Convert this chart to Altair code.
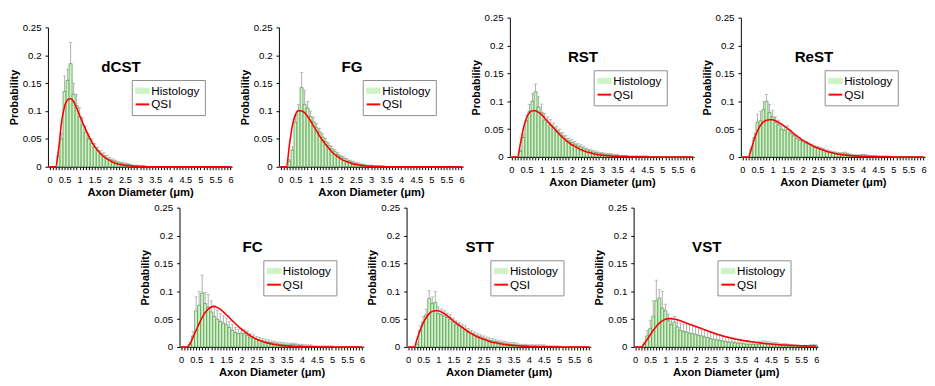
import altair as alt
import pandas as pd

# ---- data (bin centres 0.0 .. 6.0 um, step 0.1) ----
bins = [round(i * 0.1, 1) for i in range(61)]
y_ticks = [0, 0.05, 0.1, 0.15, 0.2, 0.25]
series_names = ["Histology", "QSI"]

dCST_hist = [0, 0, 0, 0.02, 0.05, 0.135, 0.155, 0.185, 0.13, 0.11,
             0.09, 0.075, 0.062, 0.05, 0.042, 0.035, 0.029, 0.024, 0.02, 0.016,
             0.013, 0.011, 0.009, 0.007, 0.006, 0.005, 0.004, 0.003, 0.002, 0.002,
             0.001, 0.001, 0, 0, 0, 0, 0, 0, 0, 0,
             0, 0, 0, 0, 0, 0, 0, 0, 0, 0,
             0, 0, 0, 0, 0, 0, 0, 0, 0, 0,
             0]
dCST_err = [0, 0, 0, 0.005, 0.01, 0.028, 0.02, 0.038, 0.02, 0.02,
            0.016, 0.013, 0.011, 0.009, 0.008, 0.007, 0.006, 0.005, 0.005, 0.004,
            0.004, 0.003, 0.003, 0.002, 0.002, 0.002, 0.002, 0.001, 0.001, 0.001,
            0.001, 0.001, 0, 0, 0, 0, 0, 0, 0, 0,
            0, 0, 0, 0, 0, 0, 0, 0, 0, 0,
            0, 0, 0, 0, 0, 0, 0, 0, 0, 0,
            0]
dCST_qsi = [0, 0, 0, 0.03, 0.08, 0.108, 0.12, 0.122, 0.117, 0.105,
            0.092, 0.079, 0.067, 0.055, 0.045, 0.036, 0.029, 0.023, 0.018, 0.014,
            0.011, 0.008, 0.006, 0.0045, 0.0035, 0.0025, 0.002, 0.0013, 0.001, 0.0007,
            0.0005, 0.0003, 0.0002, 0, 0, 0, 0, 0, 0, 0,
            0, 0, 0, 0, 0, 0, 0, 0, 0, 0,
            0, 0, 0, 0, 0, 0, 0, 0, 0, 0,
            0]

FG_hist = [0, 0, 0, 0.01, 0.03, 0.08, 0.1, 0.142, 0.112, 0.105,
           0.09, 0.08, 0.07, 0.062, 0.053, 0.045, 0.038, 0.032, 0.027, 0.022,
           0.018, 0.015, 0.012, 0.01, 0.008, 0.006, 0.005, 0.004, 0.003, 0.002,
           0.002, 0.001, 0.001, 0.001, 0.001, 0, 0, 0, 0, 0,
           0, 0, 0, 0, 0, 0, 0, 0, 0, 0,
           0, 0, 0, 0, 0, 0, 0, 0, 0, 0,
           0]
FG_err = [0, 0, 0, 0.003, 0.006, 0.012, 0.012, 0.027, 0.025, 0.012,
          0.01, 0.009, 0.008, 0.007, 0.006, 0.006, 0.005, 0.005, 0.004, 0.004,
          0.003, 0.003, 0.003, 0.002, 0.002, 0.002, 0.002, 0.001, 0.001, 0.001,
          0.001, 0.001, 0.001, 0.001, 0.001, 0, 0, 0, 0, 0,
          0, 0, 0, 0, 0, 0, 0, 0, 0, 0,
          0, 0, 0, 0, 0, 0, 0, 0, 0, 0,
          0]
FG_qsi = [0, 0, 0, 0.04, 0.075, 0.094, 0.101, 0.1, 0.097, 0.09,
          0.082, 0.073, 0.064, 0.055, 0.047, 0.04, 0.033, 0.027, 0.022, 0.018,
          0.014, 0.011, 0.009, 0.007, 0.005, 0.004, 0.003, 0.002, 0.0015, 0.001,
          0.0008, 0.0005, 0.0003, 0.0002, 0, 0, 0, 0, 0, 0,
          0, 0, 0, 0, 0, 0, 0, 0, 0, 0,
          0, 0, 0, 0, 0, 0, 0, 0, 0, 0,
          0]

RST_hist = [0, 0, 0, 0.01, 0.035, 0.065, 0.082, 0.1, 0.117, 0.09,
            0.08, 0.066, 0.062, 0.058, 0.053, 0.048, 0.043, 0.038, 0.033, 0.029,
            0.026, 0.023, 0.02, 0.018, 0.015, 0.013, 0.011, 0.009, 0.008, 0.007,
            0.006, 0.005, 0.004, 0.004, 0.003, 0.003, 0.002, 0.002, 0.002, 0.001,
            0.001, 0.001, 0.001, 0.001, 0.001, 0.001, 0, 0, 0, 0,
            0, 0, 0, 0, 0, 0, 0, 0, 0, 0,
            0]
RST_err = [0, 0, 0, 0.003, 0.006, 0.01, 0.012, 0.014, 0.014, 0.018,
           0.015, 0.012, 0.01, 0.009, 0.008, 0.007, 0.007, 0.006, 0.006, 0.005,
           0.005, 0.005, 0.004, 0.004, 0.004, 0.003, 0.003, 0.003, 0.003, 0.002,
           0.002, 0.002, 0.002, 0.002, 0.002, 0.002, 0.001, 0.001, 0.001, 0.001,
           0.001, 0.001, 0.001, 0.001, 0.001, 0.001, 0, 0, 0, 0,
           0, 0, 0, 0, 0, 0, 0, 0, 0, 0,
           0]
RST_qsi = [0, 0, 0, 0.025, 0.052, 0.07, 0.08, 0.083, 0.083, 0.08,
           0.076, 0.07, 0.064, 0.058, 0.052, 0.046, 0.04, 0.035, 0.03, 0.026,
           0.022, 0.019, 0.016, 0.013, 0.011, 0.009, 0.0075, 0.006, 0.005, 0.004,
           0.0033, 0.0027, 0.0022, 0.0018, 0.0015, 0.0012, 0.001, 0.0008, 0.0007, 0.0006,
           0.0005, 0.0004, 0.0003, 0.0002, 0.0002, 0.0001, 0, 0, 0, 0,
           0, 0, 0, 0, 0, 0, 0, 0, 0, 0,
           0]

ReST_hist = [0, 0, 0, 0.015, 0.035, 0.062, 0.065, 0.085, 0.1, 0.08,
             0.072, 0.062, 0.058, 0.05, 0.048, 0.05, 0.042, 0.038, 0.033, 0.03,
             0.027, 0.024, 0.022, 0.02, 0.018, 0.016, 0.014, 0.012, 0.011, 0.009,
             0.008, 0.007, 0.006, 0.006, 0.007, 0.005, 0.004, 0.003, 0.003, 0.003,
             0.004, 0.003, 0.002, 0.002, 0.002, 0.001, 0.001, 0.001, 0.001, 0,
             0, 0, 0, 0, 0, 0, 0, 0, 0, 0,
             0]
ReST_err = [0, 0, 0, 0.004, 0.008, 0.015, 0.017, 0.014, 0.012, 0.014,
            0.012, 0.01, 0.008, 0.007, 0.007, 0.006, 0.006, 0.005, 0.005, 0.005,
            0.004, 0.004, 0.003, 0.003, 0.003, 0.003, 0.003, 0.003, 0.002, 0.002,
            0.002, 0.002, 0.002, 0.002, 0.002, 0.002, 0.001, 0.001, 0.001, 0.001,
            0.001, 0.001, 0.001, 0.001, 0.001, 0.001, 0.001, 0.001, 0.001, 0,
            0, 0, 0, 0, 0, 0, 0, 0, 0, 0,
            0]
ReST_qsi = [0, 0, 0, 0.015, 0.033, 0.047, 0.057, 0.063, 0.066, 0.067,
            0.067, 0.065, 0.062, 0.059, 0.055, 0.051, 0.047, 0.042, 0.038, 0.034,
            0.03, 0.027, 0.024, 0.021, 0.018, 0.016, 0.014, 0.012, 0.01, 0.0085,
            0.0072, 0.006, 0.005, 0.0042, 0.0035, 0.0029, 0.0024, 0.002, 0.0016, 0.0013,
            0.0011, 0.0009, 0.0008, 0.0006, 0.0005, 0.0004, 0.0003, 0.0003, 0.0002, 0.0002,
            0.0001, 0, 0, 0, 0, 0, 0, 0, 0, 0,
            0]

FC_hist = [0, 0, 0, 0.005, 0.02, 0.065, 0.075, 0.097, 0.078, 0.072,
           0.063, 0.055, 0.05, 0.046, 0.043, 0.04, 0.035, 0.03, 0.026, 0.024,
           0.025, 0.024, 0.021, 0.018, 0.016, 0.014, 0.012, 0.011, 0.01, 0.009,
           0.008, 0.007, 0.006, 0.005, 0.005, 0.004, 0.004, 0.005, 0.004, 0.003,
           0.003, 0.002, 0.002, 0.002, 0.001, 0.001, 0.001, 0.001, 0.001, 0.001,
           0.001, 0, 0, 0, 0, 0, 0, 0, 0, 0,
           0]
FC_err = [0, 0, 0, 0.003, 0.008, 0.025, 0.025, 0.032, 0.02, 0.022,
          0.02, 0.018, 0.016, 0.014, 0.013, 0.012, 0.011, 0.01, 0.009, 0.008,
          0.008, 0.007, 0.007, 0.006, 0.006, 0.005, 0.005, 0.004, 0.004, 0.004,
          0.003, 0.003, 0.003, 0.003, 0.003, 0.003, 0.003, 0.002, 0.002, 0.002,
          0.002, 0.002, 0.002, 0.002, 0.001, 0.001, 0.001, 0.001, 0.001, 0.001,
          0.001, 0, 0, 0, 0, 0, 0, 0, 0, 0,
          0]
FC_qsi = [0, 0, 0, 0.006, 0.018, 0.03, 0.042, 0.053, 0.062, 0.068,
          0.072, 0.073, 0.071, 0.068, 0.063, 0.058, 0.053, 0.047, 0.042, 0.037,
          0.032, 0.028, 0.024, 0.02, 0.017, 0.014, 0.012, 0.01, 0.008, 0.0067,
          0.0055, 0.0045, 0.0037, 0.003, 0.0024, 0.002, 0.0016, 0.0013, 0.001, 0.0008,
          0.0007, 0.0005, 0.0004, 0.0003, 0.0003, 0.0002, 0.0002, 0.0001, 0, 0,
          0, 0, 0, 0, 0, 0, 0, 0, 0, 0,
          0]

STT_hist = [0, 0, 0, 0.005, 0.03, 0.045, 0.058, 0.087, 0.078, 0.08,
            0.06, 0.058, 0.056, 0.053, 0.05, 0.045, 0.04, 0.038, 0.035, 0.032,
            0.028, 0.025, 0.022, 0.02, 0.018, 0.016, 0.014, 0.012, 0.011, 0.01,
            0.009, 0.008, 0.007, 0.006, 0.005, 0.005, 0.004, 0.003, 0.003, 0.003,
            0.002, 0.002, 0.002, 0.002, 0.002, 0.002, 0.001, 0.001, 0.001, 0.001,
            0.001, 0, 0, 0, 0, 0, 0, 0, 0, 0,
            0]
STT_err = [0, 0, 0, 0.003, 0.008, 0.01, 0.01, 0.014, 0.012, 0.02,
           0.012, 0.01, 0.009, 0.008, 0.008, 0.007, 0.007, 0.006, 0.006, 0.006,
           0.005, 0.005, 0.005, 0.004, 0.004, 0.004, 0.004, 0.004, 0.004, 0.004,
           0.003, 0.003, 0.003, 0.003, 0.003, 0.003, 0.003, 0.002, 0.002, 0.002,
           0.002, 0.002, 0.002, 0.002, 0.002, 0.002, 0.001, 0.001, 0.001, 0.001,
           0.001, 0, 0, 0, 0, 0, 0, 0, 0, 0,
           0]
STT_qsi = [0, 0, 0, 0.015, 0.03, 0.043, 0.053, 0.06, 0.064, 0.065,
           0.065, 0.063, 0.06, 0.056, 0.052, 0.047, 0.043, 0.039, 0.035, 0.031,
           0.027, 0.024, 0.021, 0.018, 0.016, 0.014, 0.012, 0.01, 0.0088, 0.0075,
           0.0064, 0.0055, 0.0046, 0.0039, 0.0033, 0.0028, 0.0023, 0.0019, 0.0016, 0.0013,
           0.0011, 0.0009, 0.0008, 0.0006, 0.0005, 0.0004, 0.0003, 0.0003, 0.0002, 0.0002,
           0.0001, 0, 0, 0, 0, 0, 0, 0, 0, 0,
           0]

VST_hist = [0, 0, 0, 0.005, 0.02, 0.033, 0.055, 0.083, 0.088, 0.07,
            0.065, 0.047, 0.04, 0.045, 0.036, 0.03, 0.028, 0.027, 0.025, 0.024,
            0.023, 0.021, 0.02, 0.018, 0.017, 0.015, 0.014, 0.013, 0.012, 0.011,
            0.01, 0.009, 0.009, 0.008, 0.007, 0.007, 0.006, 0.005, 0.005, 0.005,
            0.004, 0.005, 0.006, 0.006, 0.005, 0.005, 0.004, 0.004, 0.003, 0.003,
            0.003, 0.002, 0.002, 0.002, 0.001, 0.001, 0.001, 0.001, 0.002, 0.003,
            0.002]
VST_err = [0, 0, 0, 0.003, 0.01, 0.015, 0.028, 0.037, 0.015, 0.03,
           0.012, 0.012, 0.012, 0.01, 0.012, 0.013, 0.013, 0.014, 0.015, 0.015,
           0.015, 0.014, 0.014, 0.013, 0.013, 0.012, 0.012, 0.011, 0.01, 0.01,
           0.009, 0.009, 0.008, 0.008, 0.007, 0.007, 0.006, 0.006, 0.006, 0.005,
           0.005, 0.005, 0.005, 0.005, 0.005, 0.004, 0.004, 0.004, 0.003, 0.003,
           0.003, 0.003, 0.002, 0.002, 0.002, 0.002, 0.002, 0.002, 0.002, 0.002,
           0.002]
VST_qsi = [0, 0, 0, 0.006, 0.014, 0.022, 0.03, 0.037, 0.043, 0.047,
           0.05, 0.051, 0.051, 0.05, 0.049, 0.047, 0.045, 0.043, 0.041, 0.039,
           0.037, 0.035, 0.033, 0.031, 0.029, 0.027, 0.025, 0.023, 0.0215, 0.02,
           0.0185, 0.017, 0.0158, 0.0146, 0.0135, 0.0125, 0.0115, 0.0106, 0.0098, 0.009,
           0.0083, 0.0076, 0.007, 0.0064, 0.0059, 0.0054, 0.005, 0.0046, 0.0042, 0.0038,
           0.0035, 0.0032, 0.003, 0.0027, 0.0025, 0.0023, 0.0021, 0.002, 0.0018, 0.0017,
           0.0015]

# ---- styling ----
FONT = "Liberation Sans"
FILL = "#cdf3c6"
EDGE = "#4f8f47"
ERRC = "#9a9a9a"
RED = "#ff0000"
PW, PH = 189, 143


def panel(name, hist, err, qsi):
    df = pd.DataFrame({"d": bins, "p": hist, "e": err, "q": qsi})
    base = alt.Chart(df).transform_calculate(
        x0="datum.d - 0.05", x1="datum.d + 0.05", top="datum.p + datum.e",
        hs="'Histology'", qs="'QSI'")
    xs = alt.Scale(domain=[-0.05, 6.05], nice=False, zero=False)
    ys = alt.Scale(domain=[0, 0.25], nice=False)
    xax = alt.Axis(values=bins, format="~g",
                   labelExpr="round(datum.value * 10) % 5 == 0 ? datum.label : ''",
                   title="Axon Diameter (μm)", labelFontSize=9.5, labelPadding=5,
                   labelOverlap=False, labelFlush=False, tickSize=3, titleFontSize=11.5,
                   titlePadding=3)
    yax = alt.Axis(values=y_ticks, format="~g", title="Probability", labelFontSize=10,
                   labelPadding=4, tickSize=3, titleFontSize=11, titlePadding=3)
    cs = alt.Scale(domain=series_names, range=[FILL, RED])
    leg = alt.Legend(
        title=None, orient="none", legendX=86, legendY=54, direction="vertical",
        strokeColor="#8c8c8c", fillColor="white", padding=5, rowPadding=2,
        labelFontSize=12, labelFont=FONT, labelColor="black", labelOffset=3,
        symbolSize=196,
        symbolType={"expr": "datum.value === 'QSI' ? 'stroke' : 'M-1,-0.4L1,-0.4L1,0.4L-1,0.4Z'"},
        symbolStrokeColor={"expr": "datum.value === 'QSI' ? '#ff0000' : '#4f8f47'"},
        symbolFillColor={"expr": "datum.value === 'QSI' ? 'transparent' : '#cdf3c6'"},
        symbolStrokeWidth={"expr": "datum.value === 'QSI' ? 2 : 0.8"},
        symbolOpacity=1)
    bars = base.mark_rect(stroke=EDGE, strokeWidth=0.7).encode(
        x=alt.X("x0:Q", scale=xs, axis=xax), x2="x1:Q",
        y=alt.Y("p:Q", scale=ys, axis=yax), y2=alt.datum(0),
        color=alt.Color("hs:N", scale=cs, legend=leg))
    errs = base.transform_filter("datum.e > 0").mark_rule(color=ERRC, strokeWidth=0.8).encode(
        x=alt.X("d:Q", scale=xs, axis=xax),
        y=alt.Y("p:Q", scale=ys, axis=yax), y2="top:Q")
    caps = base.transform_filter("datum.e > 0").mark_tick(
        color=ERRC, orient="horizontal", size=3.5, thickness=0.8).encode(
        x=alt.X("d:Q", scale=xs, axis=xax),
        y=alt.Y("top:Q", scale=ys, axis=yax))
    line = base.mark_line(strokeWidth=1.6, interpolate="monotone").encode(
        x=alt.X("d:Q", scale=xs, axis=xax),
        y=alt.Y("q:Q", scale=ys, axis=yax),
        color=alt.Color("qs:N", scale=cs, legend=leg))
    return alt.layer(bars, errs, caps, line).properties(
        width=PW, height=PH,
        title=alt.TitleParams(text=name, fontSize=15.5, fontWeight="bold", font=FONT,
                              color="black", anchor="middle", frame="group",
                              baseline="alphabetic", offset=0, dx=-19.5, dy=66))


def spacer(w, h):
    return alt.Chart(pd.DataFrame({"v": [0]})).mark_rule(strokeWidth=0, opacity=0).encode(
        x=alt.value(0), x2=alt.value(0), y=alt.value(0), y2=alt.value(0)
    ).properties(width=w, height=h)


p_dcst = panel("dCST", dCST_hist, dCST_err, dCST_qsi)
p_fg = panel("FG", FG_hist, FG_err, FG_qsi)
p_rst = panel("RST", RST_hist, RST_err, RST_qsi)
p_rest = panel("ReST", ReST_hist, ReST_err, ReST_qsi)
p_fc = panel("FC", FC_hist, FC_err, FC_qsi)
p_stt = panel("STT", STT_hist, STT_err, STT_qsi)
p_vst = panel("VST", VST_hist, VST_err, VST_qsi)

col1 = alt.vconcat(spacer(1, 1), p_dcst, spacing=4).resolve_scale(color="independent")
col2 = alt.vconcat(spacer(1, 1), p_fg, spacing=4).resolve_scale(color="independent")
top = alt.hconcat(col1, col2, p_rst, p_rest, spacing=5).resolve_scale(color="independent")
bottom = alt.hconcat(spacer(93, 1), p_fc, p_stt, p_vst, spacing=1).resolve_scale(color="independent")

chart = alt.vconcat(top, bottom, spacing=5).resolve_scale(color="independent").properties(
    padding={"left": 0, "top": 0, "right": 0, "bottom": 0}, background="white"
).configure(font=FONT).configure_view(stroke=None).configure_axis(
    labelFont=FONT, titleFont=FONT, labelColor="black", titleColor="black",
    domainColor="black", tickColor="black", grid=False, titleFontWeight="bold",
    domainWidth=1, tickWidth=1)

chart.save("out.html", embed_options={"renderer": "svg", "actions": False})
